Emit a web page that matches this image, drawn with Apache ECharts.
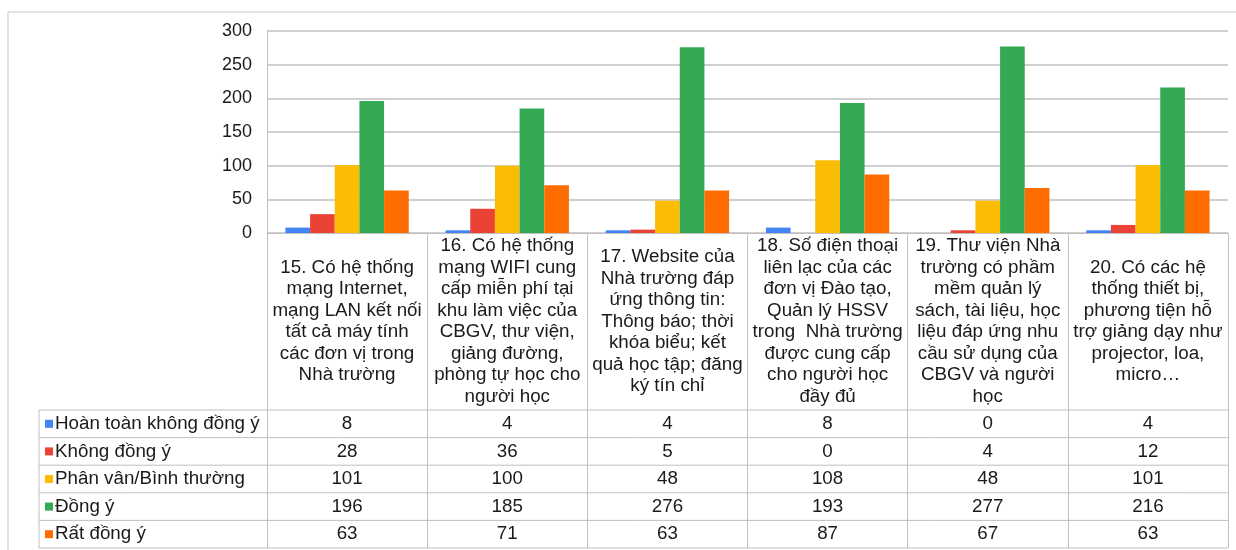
<!DOCTYPE html>
<html>
<head>
<meta charset="utf-8">
<script src="https://cdn.jsdelivr.net/npm/echarts@6/dist/echarts.min.js"></script>
<style>
  html, body { margin: 0; padding: 0; background: #fff; }
  #chart { width: 1236px; height: 550px; }
</style>
</head>
<body>
<div id="chart"></div>
<script>
// dữ liệu khảo sát
const categories = [
  '15. Có hệ thống\nmạng Internet,\nmạng LAN kết nối\ntất cả máy tính\ncác đơn vị trong\nNhà trường',
  '16. Có hệ thống\nmạng WIFI cung\ncấp miễn phí tại\nkhu làm việc của\nCBGV, thư viện,\ngiảng đường,\nphòng tự học cho\nngười học',
  '17. Website của\nNhà trường đáp\nứng thông tin:\nThông báo; thời\nkhóa biểu; kết\nquả học tập; đăng\nký tín chỉ',
  '18. Số điện thoại\nliên lạc của các\nđơn vị Đào tạo,\nQuản lý HSSV\ntrong  Nhà trường\nđược cung cấp\ncho người học\nđầy đủ',
  '19. Thư viện Nhà\ntrường có phầm\nmềm quản lý\nsách, tài liệu, học\nliệu đáp ứng nhu\ncầu sử dụng của\nCBGV và người\nhọc',
  '20. Có các hệ\nthống thiết bị,\nphương tiện hỗ\ntrợ giảng dạy như\nprojector, loa,\nmicro…'
]
const seriesNames = ['Hoàn toàn không đồng ý', 'Không đồng ý', 'Phân vân/Bình thường', 'Đồng ý', 'Rất đồng ý']
const hoanToanKhongDongY = [8, 4, 4, 8, 0, 4]
const khongDongY = [28, 36, 5, 0, 4, 12]
const phanVan = [101, 100, 48, 108, 48, 101]
const dongY = [196, 185, 276, 193, 277, 216]
const ratDongY = [63, 71, 63, 87, 67, 63]
const colors = ['#4285F4', '#EA4335', '#FBBC04', '#34A853', '#FF6D01']
const yMin = 0, yMax = 300, yStep = 50

const values = [hoanToanKhongDongY, khongDongY, phanVan, dongY, ratDongY]
const font = "'Liberation Sans', Arial, sans-serif"
const lineColor = '#bfbfbf'
const textSize = 18.8

// bố cục bảng dữ liệu bên dưới
const plotLeft = 267, plotRight = 1228, axisY = 233
const tableTop = 410, rowH = 27.6, tableLeft = 39

let myChart = echarts.init(document.getElementById('chart'))

myChart.setOption({
  animation: false,
  color: colors,
  textStyle: { fontFamily: font },
  grid: { left: plotLeft, right: 1236 - plotRight, top: 31, bottom: 550 - axisY, containLabel: false },
  xAxis: {
    type: 'category',
    data: categories,
    axisLine: { show: true, lineStyle: { color: lineColor, width: 1 } },
    axisTick: { show: true, length: 548 - axisY, lineStyle: { color: lineColor } },
    axisLabel: {
      interval: 0,
      margin: (tableTop - axisY) / 2,
      verticalAlign: 'middle',
      fontSize: textSize,
      lineHeight: 21.5,
      color: '#1a1a1a',
      fontFamily: font
    }
  },
  yAxis: {
    type: 'value',
    min: yMin,
    max: yMax,
    interval: yStep,
    axisLine: { show: true, lineStyle: { color: lineColor } },
    axisTick: { show: false },
    splitLine: { lineStyle: { color: lineColor, width: 1.5 } },
    axisLabel: { fontSize: 18, color: '#1a1a1a', margin: 15, fontFamily: font }
  },
  series: seriesNames.map((name, i) => ({
    name: name,
    type: 'bar',
    data: values[i],
    barGap: '0%',
    barCategoryGap: '23%'
  }))
})

// vẽ bảng dữ liệu
function buildTable() {
  let els = []
  // khung ngoài
  els.push({ type: 'line', shape: { x1: 8, y1: 12, x2: 1236, y2: 12 }, style: { stroke: '#d9d9d9', lineWidth: 1.5 } })
  els.push({ type: 'line', shape: { x1: 8, y1: 12, x2: 8, y2: 550 }, style: { stroke: '#d9d9d9', lineWidth: 1.5 } })
  // các đường ngang
  for (let r = 0; r <= seriesNames.length; r++) {
    let y = tableTop + r * rowH
    els.push({ type: 'line', shape: { x1: tableLeft, y1: y, x2: plotRight, y2: y }, style: { stroke: lineColor, lineWidth: 1 } })
  }
  els.push({ type: 'line', shape: { x1: tableLeft, y1: tableTop, x2: tableLeft, y2: tableTop + seriesNames.length * rowH }, style: { stroke: lineColor, lineWidth: 1 } })
  seriesNames.forEach((name, r) => {
    let cy = tableTop + r * rowH + rowH / 2
    els.push({ type: 'rect', shape: { x: 45, y: cy - 4, width: 8, height: 8 }, style: { fill: colors[r] } })
    els.push({ type: 'text', x: 55, y: cy, style: { text: name, fontSize: textSize, fontFamily: font, fill: '#1a1a1a', verticalAlign: 'middle', align: 'left' } })
    values[r].forEach((v, c) => {
      let cx = myChart.convertToPixel({ xAxisIndex: 0 }, c)
      els.push({ type: 'text', x: cx, y: cy, style: { text: String(v), fontSize: textSize, fontFamily: font, fill: '#1a1a1a', verticalAlign: 'middle', align: 'center' } })
    })
  })
  return els
}

myChart.setOption({ graphic: buildTable() })
</script>
</body>
</html>
